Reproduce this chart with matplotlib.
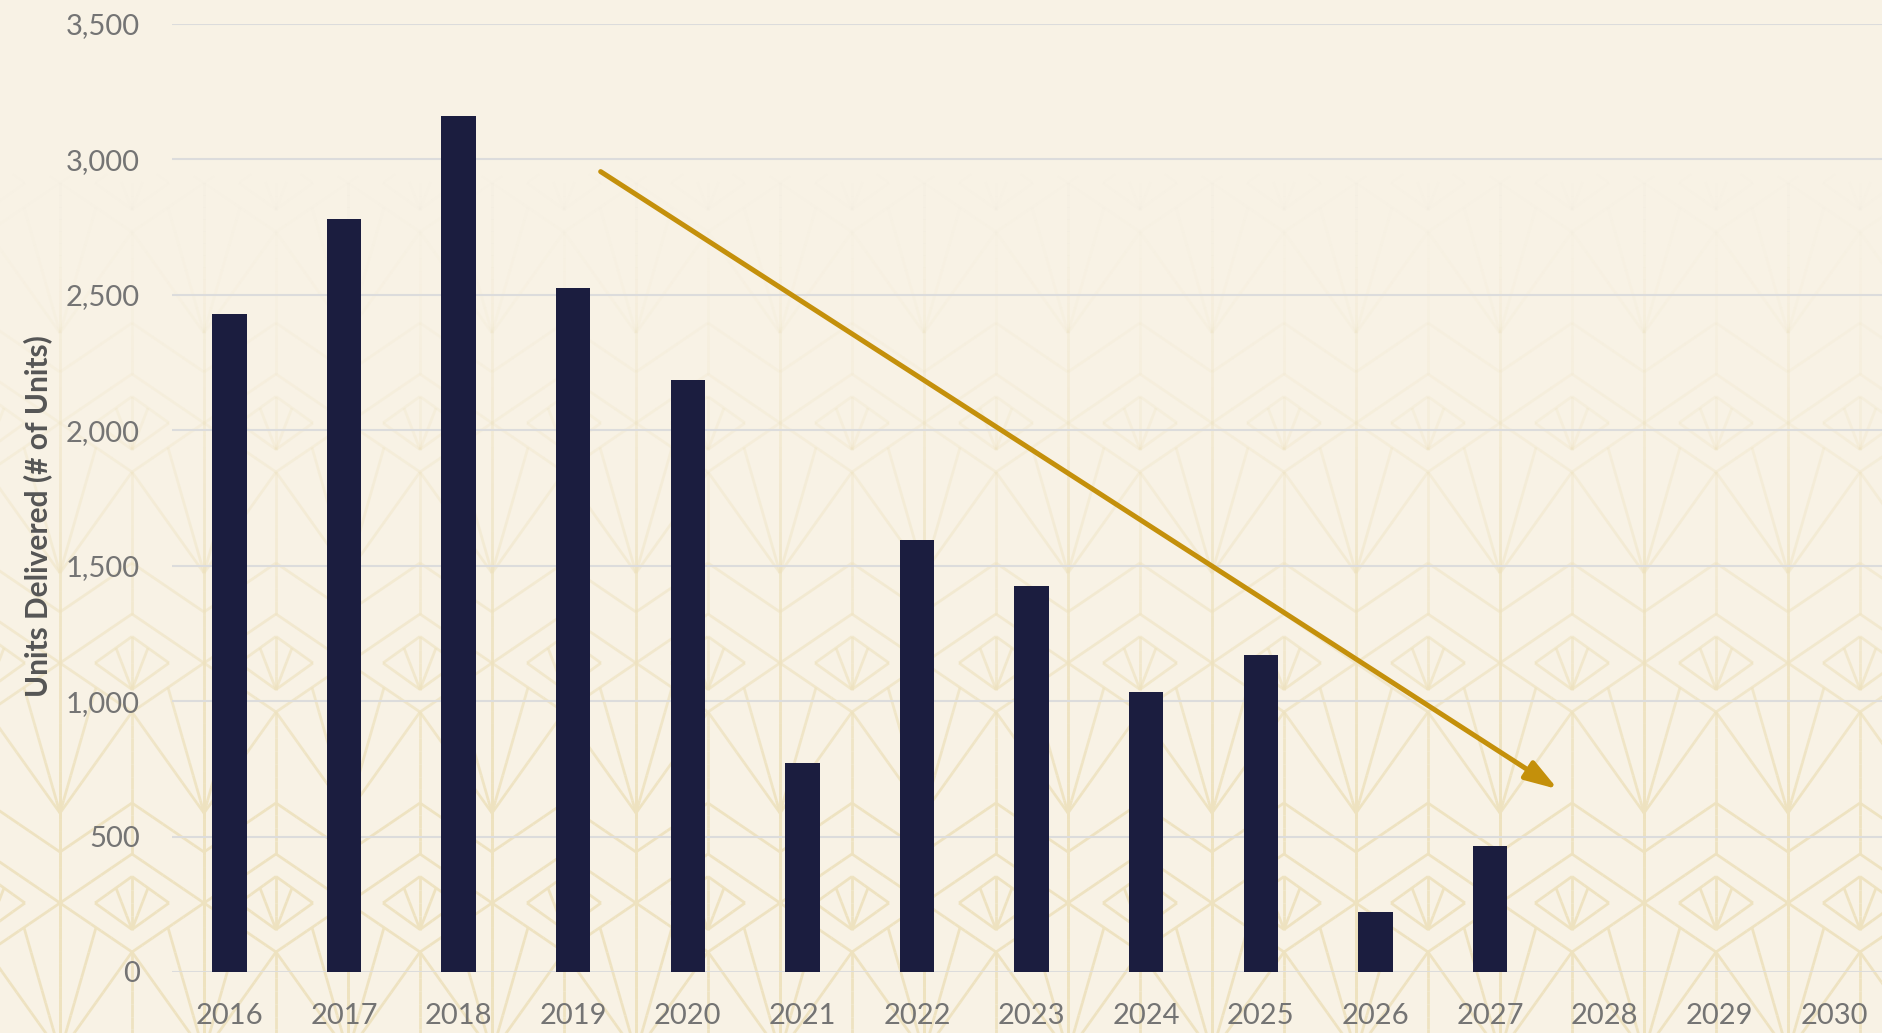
import numpy as np
import matplotlib
matplotlib.use("Agg")
from matplotlib import pyplot as plt
from matplotlib.collections import LineCollection
from matplotlib.patches import FancyArrowPatch

# data
years = ['2016', '2017', '2018', '2019', '2020', '2021', '2022', '2023',
         '2024', '2025', '2026', '2027', '2028', '2029', '2030']
units = [2430, 2780, 3160, 2525, 2185, 770, 1595, 1425, 1035, 1170, 220, 465, 0, 0, 0]
y_ticks = [0, 500, 1000, 1500, 2000, 2500, 3000, 3500]
trend_start = (3.24, 2955)
trend_end = (11.59, 675)

BG = '#F8F2E5'
NAVY = '#1B1D3F'
GOLD = '#C4900B'
DECO = np.array([0.935, 0.885, 0.75])

W, H = 1882, 1033


def deco_segments():
    # art deco tile, in pixel units relative to the small diamond centre
    tile = [
        [(-37, 0), (0, -26.5), (37, 0), (0, 26.5), (-37, 0)],
        [(0, 26.5), (0, -26.5)],
        [(0, 26.5), (-16, -15)],
        [(0, 26.5), (16, -15)],
        [(-72, 0), (0, -49), (72, 0), (0, 49), (-72, 0)],
        [(-72, -51), (0, -100), (72, -51)],
        [(36, 24.5), (72, 150)],
        [(108, 24.5), (72, 150)],
        [(0, 49), (72, 150)],
        [(144, 49), (72, 150)],
        [(0, 49), (0, 191)],
        [(72, -240), (72, 0)],
        [(72, 0), (72, 240)],
    ]
    segs = []
    for cx in np.arange(132 - 144, W + 144, 144):
        for cy in np.arange(903 + 240, -300, -240):
            for path in tile:
                for (x0, y0), (x1, y1) in zip(path[:-1], path[1:]):
                    segs.append(((cx + x0, cy + y0), (cx + x1, cy + y1)))
    return segs


def split_segments(segs, step=12):
    out = []
    for (x0, y0), (x1, y1) in segs:
        n = max(1, int(np.hypot(x1 - x0, y1 - y0) / step))
        t = np.linspace(0, 1, n + 1)
        xs = x0 + (x1 - x0) * t
        ys = y0 + (y1 - y0) * t
        for i in range(n):
            out.append(((xs[i], ys[i]), (xs[i + 1], ys[i + 1])))
    return out


fig = plt.figure(figsize=(W / 100, H / 100), dpi=100, facecolor=BG)

# background pattern, fading out towards the top
bg = fig.add_axes([0, 0, 1, 1], zorder=0)
bg.set_facecolor(BG)
bg.set_xlim(0, W)
bg.set_ylim(H, 0)
bg.axis('off')
pieces = split_segments(deco_segments())
mids = np.array([(a[1] + b[1]) / 2 for a, b in pieces])
alpha = np.clip((mids - 170) / 650, 0, 1) ** 1.4
colors = np.zeros((len(pieces), 4))
colors[:, :3] = DECO
colors[:, 3] = alpha * 0.95
bg.add_collection(LineCollection(pieces, colors=colors, linewidths=2.0, capstyle='butt'))

ax = fig.add_axes([172 / W, 61 / H, (W - 172) / W, 948 / H], zorder=1)
ax.set_facecolor('none')

x = np.arange(len(years))
ax.bar(x, units, width=0.30, color=NAVY, zorder=2)

ax.set_xlim(-0.5, (W - 229) / 114.64)
ax.set_ylim(0, 3500)
ax.set_xticks(x)
ax.set_xticklabels(years)
ax.set_yticks(y_ticks)
ax.set_yticklabels([f'{v:,}' for v in y_ticks])

ax.set_axisbelow(True)
ax.yaxis.grid(True, color='#DCDCDC', linewidth=1.5)
for s in ax.spines.values():
    s.set_visible(False)

ax.tick_params(axis='both', length=0, labelsize=21, labelcolor='#747474')
ax.tick_params(axis='x', pad=22)
ax.tick_params(axis='y', pad=23)
for lab in ax.get_xticklabels() + ax.get_yticklabels():
    lab.set_fontfamily(['Lato', 'DejaVu Sans'])
    lab.set_fontweight('normal')

arrow = FancyArrowPatch(trend_start, trend_end,
                        arrowstyle='-|>,head_length=1.3,head_width=0.42',
                        mutation_scale=15, color=GOLD, lw=3.6,
                        shrinkA=0, shrinkB=0, zorder=3)
ax.add_patch(arrow)

fig.text(38 / W, 1 - 516 / H, 'Units Delivered (# of Units)', rotation=90,
         ha='center', va='center', fontsize=21.5, fontweight='bold',
         color='#555555', family=['Lato', 'DejaVu Sans'])

fig.savefig('out.png', dpi=100, facecolor=BG)
